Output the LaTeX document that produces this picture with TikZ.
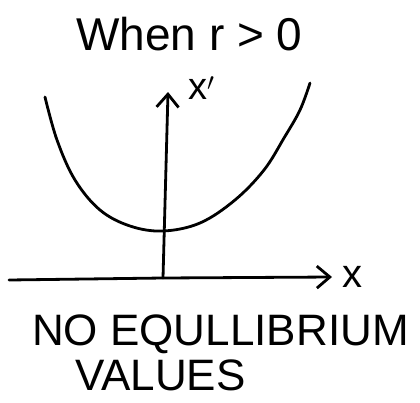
\documentclass[tikz,border=0pt]{standalone}
\usepackage{fontspec}
\setmainfont{Liberation Sans}
\usetikzlibrary{arrows.meta, positioning}

\begin{document}
\begin{tikzpicture}[
    x=1pt, y=-1pt,
    pen/.style={line width=2.8pt, line cap=round, line join=round},
    arrow/.style={pen, -{Straight Barb[length=13pt, width=22pt, line width=2.8pt]}},
    words/.style={font=\fontsize{44}{48}\selectfont, inner sep=0pt, anchor=base west},
    axislabel/.style={font=\fontsize{40}{44}\selectfont, inner sep=0pt}
]
    \useasboundingbox (0,0) rectangle (420,402);

    % Title
    \node[words, font=\fontsize{46}{50}\selectfont] (title) at (76,50) {When r > 0};

    % Axes
    \coordinate (origin) at (163,278);
    \coordinate (xend) at (332,277);
    \coordinate (yend) at (168,92);
    \coordinate (xstart) at (9,280);
    \draw[arrow] (xstart) -- (origin) -- (xend);
    \draw[arrow] (origin) -- (yend);
    \node[axislabel, right=10pt of xend] (xlab) {x};
    \node[axislabel, font=\fontsize{38}{42}\selectfont, above right=-8pt and 20pt of yend] (xplab) {x$'$};

    % Parabola, always above the x-axis
    \draw[pen] plot[smooth, tension=0.6] coordinates {
        (45,97) (57,140) (75,180) (100,210) (130,226) (163,231)
        (200,223) (235,200) (264,170) (284,138) (300,110) (310,83)};

    % Caption
    \node[words] (none) at (32,345) {NO EQULLIBRIUM};
    \node[words] (values) at (75,390) {VALUES};
\end{tikzpicture}
\end{document}
